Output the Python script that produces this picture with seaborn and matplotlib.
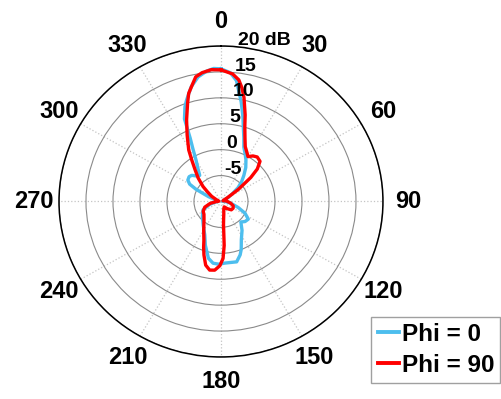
import numpy as np
import pandas as pd
import matplotlib
matplotlib.use("Agg")
import matplotlib.pyplot as plt
import seaborn as sns

# Radiation pattern cuts (gain in dB vs. angle in degrees, clockwise from 0 at top)
phi0_angle = [0, 4, 7, 11, 14, 16, 19, 22, 26, 30, 35, 40, 45, 50, 55, 60, 70, 80,
              90, 100, 110, 117, 124, 131, 137, 145, 153, 158, 161, 166, 176, 182,
              187, 192, 199, 205, 216, 230, 244, 255, 265, 275, 285, 292, 297, 300,
              304, 309, 313, 318, 322, 326, 330, 333, 335, 337, 340, 342, 346, 350,
              354, 357, 360]
phi0_gain = [15.6, 14.9, 13.5, 9.6, 6.8, 5.0, 3.0, 1.3, 0.2, -0.75, -2.0, -3.4, -4.6,
             -5.9, -7.5, -8.5, -9.5, -9.7, -9.2, -8.2, -6.6, -5.0, -3.9, -4.1, -4.6,
             -3.2, -1.7, 0.0, 0.9, 2.0, 1.9, 2.1, 2.0, 1.2, -1.1, -2.9, -4.4, -5.5,
             -6.3, -7.8, -9.0, -9.5, -9.2, -7.5, -4.8, -3.3, -2.6, -2.4, -2.6, -3.4,
             -3.6, -2.4, -0.75, 1.5, 3.5, 7.3, 9.5, 10.6, 12.8, 14.4, 15.3, 15.7, 15.6]

phi90_angle = [0, 5, 8, 10, 12, 15, 17, 20, 23, 27, 30, 34, 38, 43, 47, 50, 54, 58,
               65, 70, 80, 90, 100, 110, 120, 130, 140, 150, 160, 168, 172, 174, 176,
               178, 181, 185, 189, 193, 197, 200, 203, 210, 222, 232, 240, 250, 260,
               270, 280, 290, 300, 307, 311, 317, 322, 326, 329, 334, 338, 342, 344,
               347, 349, 352, 356, 360]
phi90_gain = [15.4, 14.7, 13.7, 12.3, 10.5, 7.3, 5.1, 3.0, 1.5, 0.6, 0.0, 0.6, 0.9,
              0.6, -0.8, -2.8, -6.0, -8.5, -9.5, -9.6, -9.2, -8.8, -8.2, -7.6, -7.4,
              -7.5, -8.2, -8.8, -8.5, -7.5, -6.5, -5.5, -1.5, 1.0, 2.4, 3.3, 3.4, 2.6,
              0.8, -0.6, -1.9, -3.6, -5.3, -6.0, -6.2, -6.8, -8.0, -9.2, -9.6, -9.2,
              -8.0, -6.8, -5.6, -3.8, -2.2, -0.3, 1.6, 4.3, 7.0, 10.0, 11.7, 13.3,
              14.5, 15.1, 15.5, 15.4]

series_names = ["Phi = 0", "Phi = 90"]
series_colors = ["#4DBEEE", "#FF0000"]

theta_ticks = list(range(0, 360, 30))
theta_labels = [str(t) for t in theta_ticks]
r_ticks = [-5, 0, 5, 10, 15, 20]
r_labels = ["-5", "0", "5", "10", "15", "20 dB"]
r_min, r_max = -10, 20

df = pd.concat([
    pd.DataFrame({"theta": np.deg2rad(phi0_angle), "gain": phi0_gain,
                  "series": series_names[0]}),
    pd.DataFrame({"theta": np.deg2rad(phi90_angle), "gain": phi90_gain,
                  "series": series_names[1]}),
], ignore_index=True)

plt.rcParams["font.family"] = ["Liberation Sans", "DejaVu Sans"]
plt.rcParams["font.weight"] = "bold"

fig = plt.figure(figsize=(5.02, 3.99), dpi=100)
ax = fig.add_axes([0.1175, 0.1053, 0.6454, 0.7794], projection="polar")
ax.set_aspect("auto")
ax.set_theta_zero_location("N")
ax.set_theta_direction(-1)

sns.lineplot(data=df, x="theta", y="gain", hue="series", hue_order=series_names,
             palette=series_colors, sort=False, estimator=None, linewidth=2.4,
             legend=False, ax=ax)

ax.set_ylim(r_min, r_max)
ax.set_xlabel("")
ax.set_ylabel("")

# angular grid and labels
ax.set_xticks(np.deg2rad(theta_ticks))
ax.set_xticklabels(theta_labels, fontsize=17, fontweight="bold")
ax.tick_params(axis="x", length=0, pad=11)
ax.xaxis.grid(True, color="#c4c4c4", linestyle=":", linewidth=0.9)

# radial circles, with labels drawn just off the top spoke
ax.set_yticks(r_ticks)
ax.set_yticklabels([])
ax.yaxis.grid(True, color="#8a8a8a", linestyle="-", linewidth=0.8)
for r, lab in zip(r_ticks, r_labels):
    ax.annotate(lab, xy=(np.deg2rad(6), r), xytext=(0, 1.5),
                textcoords="offset points", ha="left", va="baseline",
                fontsize=14, fontweight="bold", annotation_clip=False)

ax.spines["polar"].set_color("black")
ax.spines["polar"].set_linewidth(1.1)

leg = ax.legend(ax.get_lines()[:2], series_names, loc="upper left",
                bbox_to_anchor=(0.740, 0.2063), bbox_transform=fig.transFigure,
                borderaxespad=0, borderpad=0.25, handlelength=0.9,
                handletextpad=0.1, labelspacing=0.32, fancybox=False,
                framealpha=1, edgecolor="#a0a0a0",
                prop={"size": 17.5, "weight": "bold"})
leg.get_frame().set_linewidth(1.0)
for h in leg.get_lines():
    h.set_linewidth(2.8)

fig.savefig("out.png", dpi=100)
